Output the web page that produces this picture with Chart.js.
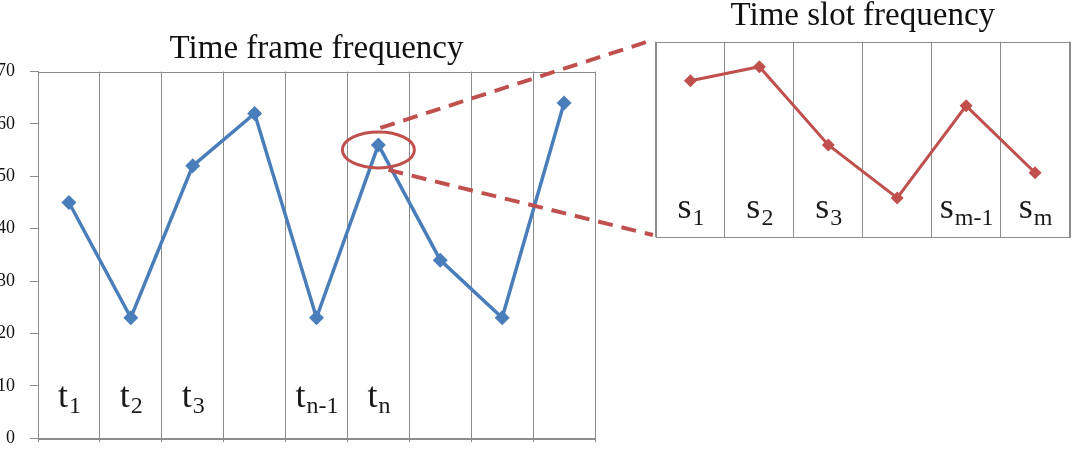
<!DOCTYPE html>
<html>
<head>
<meta charset="utf-8">
<script src="https://cdn.jsdelivr.net/npm/chart.js@4.4.1/dist/chart.umd.min.js"></script>
<style>
  html, body { margin: 0; padding: 0; background: #fff; }
  #wrap { position: relative; width: 1072px; height: 459px; overflow: hidden; }
  #frameChart { position: absolute; left: -20px; top: 0; }
  #slotChart { position: absolute; left: 640px; top: -6px; }
  #overlay { position: absolute; left: 0; top: 0; pointer-events: none; }
</style>
</head>
<body>
<div id="wrap">
  <canvas id="frameChart" width="640" height="464"></canvas>
  <canvas id="slotChart" width="436" height="260"></canvas>
  <canvas id="overlay" width="1072" height="459"></canvas>
</div>
<script>
// time frames (left chart)
const frameSubs = ['1', '2', '3', '', 'n-1', 'n', '', '', ''];
const frameValues = [45, 23, 52, 62, 23, 56, 34, 23, 64];
const frameMin = 0;
const frameMax = 70;
const frameStep = 10;

// time slots of the zoomed frame (right chart)
const slotSubs = ['1', '2', '3', '', 'm-1', 'm'];
const slotValues = [56, 61, 33, 14, 47, 23];

// which frame gets circled
const zoomIndex = frameSubs.indexOf('n');

const serif = '"Liberation Serif", "Times New Roman", serif';
const blue = '#4a7ebb';
const red = '#c0504d';
const gridGrey = '#8c8c8c';

// draws labels like t1, tn-1 inside the plot, with a subscript
const subLabels = {
    id: 'subLabels',
    afterDatasetsDraw(chart, args, opts) {
        const ctx = chart.ctx;
        const xs = chart.scales.x;
        const base = chart.chartArea.bottom - opts.fromBottom;
        opts.subs.forEach((sub, i) => {
            if (!sub) return;
            const x = xs.getPixelForValue(i);
            ctx.save();
            ctx.fillStyle = '#1a1a1a';
            ctx.textBaseline = 'alphabetic';
            ctx.textAlign = 'left';
            ctx.font = opts.mainSize + 'px ' + serif;
            const w1 = ctx.measureText(opts.letter).width;
            ctx.font = opts.subSize + 'px ' + serif;
            const w2 = ctx.measureText(sub).width;
            const left = x - (w1 + w2) / 2;
            ctx.font = opts.mainSize + 'px ' + serif;
            ctx.fillText(opts.letter, left, base);
            ctx.font = opts.subSize + 'px ' + serif;
            ctx.fillText(sub, left + w1 + 1, base + opts.subDrop);
            ctx.restore();
        });
    }
};

// box round the plot area
const areaBorder = {
    id: 'areaBorder',
    beforeDatasetsDraw(chart) {
        const a = chart.chartArea;
        const ctx = chart.ctx;
        ctx.save();
        ctx.strokeStyle = gridGrey;
        ctx.lineWidth = 1;
        ctx.strokeRect(Math.round(a.left) + 0.5, Math.round(a.top) + 0.5,
            Math.round(a.right - a.left), Math.round(a.bottom - a.top));
        ctx.restore();
    }
};

const frameChart = new Chart(document.getElementById('frameChart'), {
    type: 'line',
    data: {
        labels: frameSubs,
        datasets: [{
            data: frameValues,
            borderColor: blue,
            backgroundColor: blue,
            borderWidth: 3.5,
            pointStyle: 'rectRot',
            pointRadius: 7.5,
            pointBorderWidth: 0,
            tension: 0
        }]
    },
    options: {
        responsive: false,
        animation: false,
        layout: { padding: { left: 0, right: 25, top: 0, bottom: 0 } },
        plugins: {
            legend: { display: false },
            tooltip: { enabled: false },
            title: {
                display: true,
                text: 'Time frame frequency',
                fullSize: false,
                color: '#111',
                font: { family: serif, size: 33, weight: 'normal', lineHeight: 1.2 },
                padding: { top: 30, bottom: 2 }
            },
            subLabels: { subs: frameSubs, letter: 't', mainSize: 36, subSize: 24, fromBottom: 31, subDrop: 6 }
        },
        scales: {
            x: {
                offset: true,
                ticks: { display: false },
                grid: { color: gridGrey, tickLength: 4, offset: true },
                border: { color: gridGrey },
                afterFit(scale) { scale.height = 16; }
            },
            y: {
                min: frameMin,
                max: frameMax,
                ticks: {
                    stepSize: frameStep,
                    padding: 15,
                    color: '#111',
                    font: { family: serif, size: 18 }
                },
                grid: {
                    color: 'rgba(0,0,0,0)',
                    tickColor: gridGrey,
                    tickLength: 8
                },
                border: { color: gridGrey },
                afterFit(scale) { scale.width = 58; }
            }
        }
    },
    plugins: [areaBorder, subLabels]
});

const slotChart = new Chart(document.getElementById('slotChart'), {
    type: 'line',
    data: {
        labels: slotSubs,
        datasets: [{
            data: slotValues,
            borderColor: red,
            backgroundColor: red,
            borderWidth: 3,
            pointStyle: 'rectRot',
            pointRadius: 6.5,
            pointBorderWidth: 0,
            tension: 0
        }]
    },
    options: {
        responsive: false,
        animation: false,
        layout: { padding: { left: 16, right: 2, top: 0, bottom: 0 } },
        plugins: {
            legend: { display: false },
            tooltip: { enabled: false },
            title: {
                display: true,
                text: 'Time slot frequency',
                fullSize: false,
                color: '#111',
                font: { family: serif, size: 33, weight: 'normal', lineHeight: 1.2 },
                padding: { top: 3, bottom: 5 }
            },
            subLabels: { subs: slotSubs, letter: 's', mainSize: 36, subSize: 24, fromBottom: 19, subDrop: 7 }
        },
        scales: {
            x: {
                offset: true,
                ticks: { display: false },
                grid: { color: gridGrey, drawTicks: false, offset: true },
                border: { color: gridGrey },
                afterFit(scale) { scale.height = 17; }
            },
            y: { display: false, min: frameMin, max: frameMax }
        }
    },
    plugins: [areaBorder, subLabels]
});

// ellipse round the zoomed frame and the dashed links to the slot chart
function drawZoomLinks() {
    const ctx = document.getElementById('overlay').getContext('2d');
    const lc = frameChart.canvas;
    const rc = slotChart.canvas;
    const px = lc.offsetLeft + frameChart.scales.x.getPixelForValue(zoomIndex);
    const py = lc.offsetTop + frameChart.scales.y.getPixelForValue(frameValues[zoomIndex]);
    const boxLeft = rc.offsetLeft + slotChart.chartArea.left;
    const boxTop = rc.offsetTop + slotChart.chartArea.top;
    const boxBottom = rc.offsetTop + slotChart.chartArea.bottom;

    ctx.strokeStyle = red;
    ctx.lineWidth = 3;
    ctx.beginPath();
    ctx.ellipse(px, py + 5, 36, 18, 0, 0, Math.PI * 2);
    ctx.stroke();

    ctx.lineWidth = 4;
    ctx.setLineDash([15, 9]);
    ctx.beginPath();
    ctx.moveTo(px + 2, py - 17);
    ctx.lineTo(boxLeft - 2, boxTop - 2);
    ctx.moveTo(px + 10, py + 25);
    ctx.lineTo(boxLeft - 3, boxBottom - 2);
    ctx.stroke();
}

drawZoomLinks();
</script>
</body>
</html>
